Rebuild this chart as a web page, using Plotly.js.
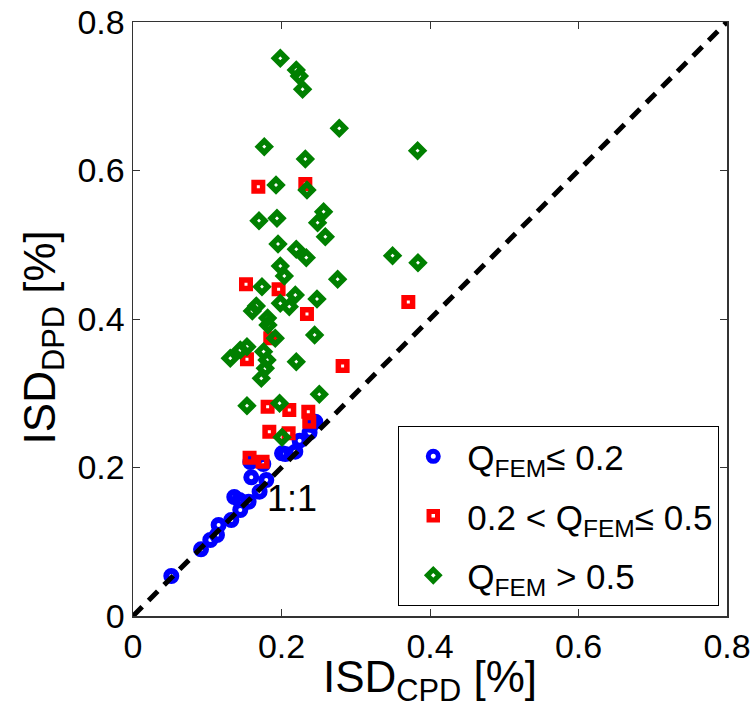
<!DOCTYPE html>
<html>
<head>
<meta charset="utf-8">
<script src="https://cdn.plot.ly/plotly-3.0.1.min.js"></script>
<style>html,body{margin:0;padding:0;background:#fff;}</style>
</head>
<body>
<div id="chart" style="width:753px;height:708px;"></div>
<script>
// Q_FEM <= 0.2
const blueX = [0.0516, 0.0916, 0.1041, 0.1131, 0.1153, 0.1324, 0.1445, 0.1364, 0.1432, 0.1557, 0.1705, 0.1593, 0.1795, 0.1580, 0.1755, 0.2007, 0.2051, 0.2186, 0.2244, 0.2378, 0.2455, 0.2401];
const blueY = [0.0539, 0.0898, 0.1024, 0.1091, 0.1226, 0.1293, 0.1428, 0.1603, 0.1562, 0.1539, 0.1674, 0.1868, 0.1832, 0.2074, 0.2047, 0.2191, 0.2182, 0.2213, 0.2361, 0.2469, 0.2617, 0.2572];
// 0.2 < Q_FEM <= 0.5
const redX = [0.1688, 0.2321, 0.1522, 0.1961, 0.2343, 0.3708, 0.1535, 0.1849, 0.2823, 0.1813, 0.2105, 0.2361, 0.2374, 0.1836, 0.2096, 0.1570, 0.1745];
const redY = [0.5782, 0.5818, 0.4467, 0.4400, 0.4067, 0.4229, 0.3457, 0.3740, 0.3367, 0.2819, 0.2774, 0.2752, 0.2617, 0.2482, 0.2461, 0.2132, 0.2078];
// Q_FEM > 0.5
const greenX = [0.1984, 0.2199, 0.2240, 0.2284, 0.2778, 0.3833, 0.1768, 0.2321, 0.1926, 0.2343, 0.1697, 0.1939, 0.2567, 0.2486, 0.2590, 0.1953, 0.2199, 0.2334, 0.1984, 0.2038, 0.3496, 0.3838, 0.2756, 0.1737, 0.2186, 0.2478, 0.1984, 0.2105, 0.1607, 0.1661, 0.1813, 0.1818, 0.1916, 0.2446, 0.1310, 0.1445, 0.1535, 0.1759, 0.1805, 0.1782, 0.1728, 0.2199, 0.2509, 0.1535, 0.1974, 0.2007];
const greenY = [0.7511, 0.7354, 0.7273, 0.7094, 0.6568, 0.6267, 0.6321, 0.6155, 0.5805, 0.5737, 0.5324, 0.5356, 0.5445, 0.5297, 0.5108, 0.5010, 0.4939, 0.4826, 0.4714, 0.4579, 0.4853, 0.4758, 0.4535, 0.4435, 0.4323, 0.4269, 0.4211, 0.4166, 0.4108, 0.4175, 0.4013, 0.3919, 0.3740, 0.3785, 0.3471, 0.3582, 0.3627, 0.3560, 0.3448, 0.3336, 0.3201, 0.3425, 0.2986, 0.2832, 0.2865, 0.2407];
// 1:1 reference line
const lineX = [0, 0.8];
const lineY = [0, 0.8];
const tickVals = [0, 0.2, 0.4, 0.6, 0.8];
const tickText = ['0', '0.2', '0.4', '0.6', '0.8'];
const seriesNames = ['Q<sub>FEM</sub>≤ 0.2', '0.2 < Q<sub>FEM</sub>≤ 0.5', 'Q<sub>FEM</sub> > 0.5'];

const FONT = '"Liberation Sans", Arial, Helvetica, sans-serif';

const traces = [
  {x: blueX, y: blueY, type: 'scatter', mode: 'markers', name: seriesNames[0], legendgroup: 'a',
   marker: {symbol: 'circle-open', size: 10, color: '#0000ff', line: {width: 6, color: '#0000ff'}}},
  {x: redX, y: redY, type: 'scatter', mode: 'markers', name: seriesNames[1], legendgroup: 'b',
   marker: {symbol: 'square-open', size: 8.5, color: '#ff0000', line: {width: 5.5, color: '#ff0000'}}},
  {x: greenX, y: greenY, type: 'scatter', mode: 'markers', name: seriesNames[2], legendgroup: 'c',
   marker: {symbol: 'diamond-open', size: 9, color: '#008000', line: {width: 5.5, color: '#008000'}}},
  {x: lineX, y: lineY, type: 'scatter', mode: 'lines', showlegend: false, hoverinfo: 'skip',
   line: {color: '#000000', width: 5, dash: '13px,9px'}}
];

const axisCommon = {
  range: [0, 0.8], tickvals: tickVals, ticktext: tickText,
  ticks: 'inside', ticklen: 7, tickwidth: 1, tickcolor: '#333',
  showline: true, linecolor: '#333', linewidth: 1.5, mirror: 'ticks',
  showgrid: false, zeroline: false,
  tickfont: {family: FONT, size: 34, color: '#000'}
};

const layout = {
  width: 753, height: 708,
  margin: {l: 133, r: 26, t: 22, b: 92},
  paper_bgcolor: '#fff', plot_bgcolor: '#fff',
  font: {family: FONT, color: '#000'},
  showlegend: true,
  xaxis: Object.assign({}, axisCommon, {
    title: {text: 'ISD<sub>CPD</sub> [%]', font: {family: FONT, size: 44, color: '#000'}, standoff: 0}
  }),
  yaxis: Object.assign({}, axisCommon, {
    title: {text: 'ISD<sub>DPD</sub> [%]&nbsp;&nbsp;&nbsp;', font: {family: FONT, size: 44, color: '#000'}, standoff: 8}
  }),
  legend: {
    x: 0.4466, y: 0.3197, xanchor: 'left', yanchor: 'top',
    bgcolor: '#fff', bordercolor: '#000', borderwidth: 1,
    font: {family: FONT, size: 35, color: '#000'},
    traceorder: 'grouped', tracegroupgap: 11, itemwidth: 58
  },
  annotations: [{
    x: 0.2139, y: 0.1576, xref: 'x', yref: 'y', text: '1:1', showarrow: false,
    font: {family: FONT, size: 36, color: '#000'}
  }]
};

Plotly.newPlot('chart', traces, layout, {displayModeBar: false, staticPlot: true});
</script>
</body>
</html>
